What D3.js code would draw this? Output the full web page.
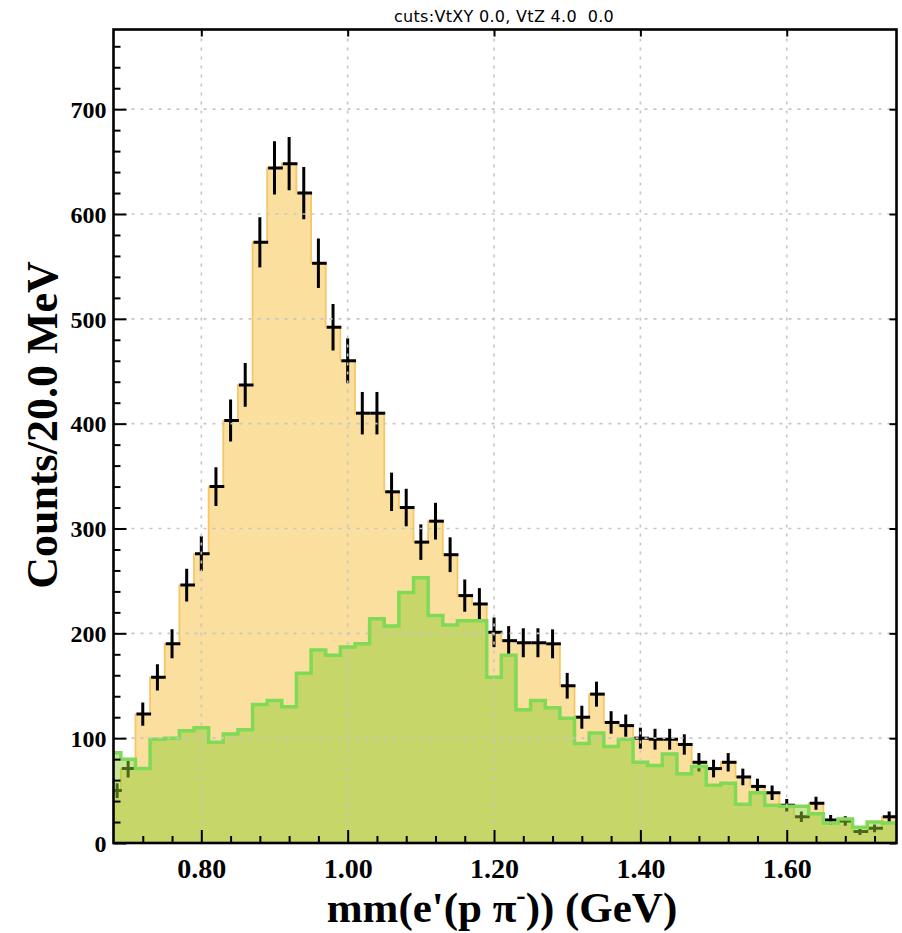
<!DOCTYPE html>
<html>
<head>
<meta charset="utf-8">
<script src="https://cdn.jsdelivr.net/npm/d3@7"></script>
<style>
body { margin: 0; background: #fff; }
</style>
</head>
<body>
<div id="chart"></div>
<script>
// bin centres (GeV), 20 MeV bins
var binCenters = [0.68, 0.70, 0.72, 0.74, 0.76, 0.78, 0.80, 0.82, 0.84, 0.86,
                  0.88, 0.90, 0.92, 0.94, 0.96, 0.98, 1.00, 1.02, 1.04, 1.06,
                  1.08, 1.10, 1.12, 1.14, 1.16, 1.18, 1.20, 1.22, 1.24, 1.26,
                  1.28, 1.30, 1.32, 1.34, 1.36, 1.38, 1.40, 1.42, 1.44, 1.46,
                  1.48, 1.50, 1.52, 1.54, 1.56, 1.58, 1.60, 1.62, 1.64, 1.66,
                  1.68, 1.70, 1.72, 1.74];
// data (orange histogram + crosses)
var dataCounts = [50, 71, 123, 158, 190, 246, 276, 340, 403, 437,
                  573, 644, 648, 620, 553, 492, 460, 410, 410, 335,
                  320, 287, 307, 275, 236, 228, 201, 193, 191, 191,
                  190, 150, 120, 142, 115, 112, 100, 99, 99, 94,
                  77, 71, 77, 63, 54, 48, 36, 25, 38, 22,
                  21, 11, 14, 25];
// simulation (green histogram)
var mcCounts = [86, 80, 71, 99, 100, 107, 110, 96, 104, 108,
                132, 136, 130, 162, 184, 179, 187, 190, 214, 207,
                239, 253, 217, 208, 212, 212, 158, 179, 127, 136,
                129, 119, 95, 105, 92, 99, 77, 74, 85, 66,
                73, 55, 57, 37, 48, 36, 35, 35, 28, 19,
                23, 15, 20, 19];
var xTickLabels = ["0.80", "1.00", "1.20", "1.40", "1.60"];
var yTickLabels = ["0", "100", "200", "300", "400", "500", "600", "700"];
var titleText = "cuts:VtXY 0.0, VtZ 4.0  0.0";

var margin = {top: 29.5, left: 113.5},
    width = 783,
    height = 813.5,
    binWidth = 0.02;

var svg = d3.select("#chart")
    .append("svg")
    .attr("width", 902)
    .attr("height", 933);

var x = d3.scaleLinear()
    .domain([0.68, 1.75])
    .range([margin.left, margin.left + width]);

var y = d3.scaleLinear()
    .domain([0, 776])
    .range([margin.top + height, margin.top]);

svg.append("defs").append("clipPath")
    .attr("id", "clip")
    .append("rect")
    .attr("x", margin.left)
    .attr("y", margin.top)
    .attr("width", width)
    .attr("height", height);

function stepPoints(values) {
    var pts = [];
    binCenters.forEach(function(c, i) {
        pts.push([c - binWidth / 2, values[i]]);
        pts.push([c + binWidth / 2, values[i]]);
    });
    return pts;
}

var area = d3.area()
    .x(function(d) { return x(d[0]); })
    .y0(y(0))
    .y1(function(d) { return y(d[1]); });

var line = d3.line()
    .x(function(d) { return x(d[0]); })
    .y(function(d) { return y(d[1]); });

var plot = svg.append("g").attr("clip-path", "url(#clip)");

var dataPts = stepPoints(dataCounts);
var mcPts = stepPoints(mcCounts);

plot.append("path")
    .attr("d", area(dataPts))
    .attr("fill", "#fbdf9f");
plot.append("path")
    .attr("d", line(dataPts))
    .attr("fill", "none")
    .attr("stroke", "#f6c764")
    .attr("stroke-width", 1.8);

// data crosses, error = sqrt(N)
var lo = x.domain()[0], hi = x.domain()[1];
var crosses = plot.append("g")
    .attr("stroke", "#000")
    .attr("stroke-width", 3);

binCenters.forEach(function(c, i) {
    var v = dataCounts[i];
    var a = Math.max(c - binWidth / 2, lo),
        b = Math.min(c + binWidth / 2, hi),
        m = (a + b) / 2;
    crosses.append("line")
        .attr("x1", x(m)).attr("x2", x(m))
        .attr("y1", y(v - Math.sqrt(v))).attr("y2", y(v + Math.sqrt(v)));
    crosses.append("line")
        .attr("x1", x(a) + 1).attr("x2", x(b) + 1)
        .attr("y1", y(v)).attr("y2", y(v));
});

plot.append("path")
    .attr("d", area(mcPts))
    .attr("fill", "rgba(148, 205, 50, 0.5)");
plot.append("path")
    .attr("d", line(mcPts))
    .attr("fill", "none")
    .attr("stroke", "#80d957")
    .attr("stroke-width", 3.5);

// dotted grid
var grid = svg.append("g")
    .attr("stroke", "#c6c6c6")
    .attr("stroke-width", 1.6)
    .attr("stroke-dasharray", "3,6");
xTickLabels.forEach(function(t) {
    grid.append("line")
        .attr("x1", x(+t)).attr("x2", x(+t))
        .attr("y1", margin.top).attr("y2", margin.top + height);
});
yTickLabels.slice(1).forEach(function(t) {
    grid.append("line")
        .attr("x1", margin.left).attr("x2", margin.left + width)
        .attr("y1", y(+t)).attr("y2", y(+t));
});

// axes
var yMajor = yTickLabels.map(Number);
var yMinor = d3.range(20, 776, 20).filter(function(v) { return v % 100 != 0; });
var xMajor = xTickLabels.map(Number);
var xMinor = [0.72, 0.76, 0.84, 0.88, 0.92, 0.96, 1.04, 1.08, 1.12, 1.16,
              1.24, 1.28, 1.32, 1.36, 1.44, 1.48, 1.52, 1.56, 1.64, 1.68, 1.72];

function styleAxis(g) {
    g.select(".domain").remove();
    g.selectAll(".tick line").attr("stroke", "#000").attr("stroke-width", 2);
    g.selectAll("text")
        .attr("fill", "#000")
        .style("font-family", "'Liberation Serif', 'Times New Roman', serif")
        .style("font-weight", "bold");
}

svg.append("g")
    .attr("transform", `translate(${margin.left},0)`)
    .call(d3.axisLeft(y).tickValues(yMajor).tickSizeInner(-13).tickSizeOuter(0)
        .tickPadding(7).tickFormat(function(d, i) { return yTickLabels[i]; }))
    .call(styleAxis)
    .selectAll("text").style("font-size", "24px").attr("dy", "0.34em");

svg.append("g")
    .attr("transform", `translate(${margin.left},0)`)
    .call(d3.axisLeft(y).tickValues(yMinor).tickSizeInner(-7).tickSizeOuter(0).tickFormat(""))
    .call(styleAxis);

svg.append("g")
    .attr("transform", `translate(0,${margin.top + height})`)
    .call(d3.axisBottom(x).tickValues(xMajor).tickSizeInner(-13).tickSizeOuter(0)
        .tickPadding(15).tickFormat(function(d, i) { return xTickLabels[i]; }))
    .call(styleAxis)
    .selectAll("text").style("font-size", "28px");

svg.append("g")
    .attr("transform", `translate(0,${margin.top + height})`)
    .call(d3.axisBottom(x).tickValues(xMinor).tickSizeInner(-7).tickSizeOuter(0).tickFormat(""))
    .call(styleAxis);

svg.append("g")
    .attr("transform", `translate(0,${margin.top})`)
    .call(d3.axisTop(x).tickValues(xMajor).tickSizeInner(-7).tickSizeOuter(0).tickFormat(""))
    .call(styleAxis);

svg.append("g")
    .attr("transform", `translate(${margin.left + width},0)`)
    .call(d3.axisRight(y).tickValues(yMajor).tickSizeInner(-7).tickSizeOuter(0).tickFormat(""))
    .call(styleAxis);

// frame
svg.append("rect")
    .attr("x", margin.left)
    .attr("y", margin.top)
    .attr("width", width)
    .attr("height", height)
    .attr("fill", "none")
    .attr("stroke", "#000")
    .attr("stroke-width", 2.6);

// titles
svg.append("text")
    .attr("x", 504)
    .attr("y", 21.5)
    .attr("text-anchor", "middle")
    .style("font-family", "'DejaVu Sans', sans-serif")
    .style("font-size", "16px")
    .style("letter-spacing", "0.3px")
    .style("white-space", "pre")
    .text(titleText);

var xTitle = svg.append("text")
    .attr("x", 502)
    .attr("y", 922)
    .attr("text-anchor", "middle")
    .style("font-family", "'Liberation Serif', 'Times New Roman', serif")
    .style("font-weight", "bold")
    .style("font-size", "43px");
xTitle.append("tspan").text("mm(e'(p \u03C0");
xTitle.append("tspan").attr("dy", -18).style("font-size", "28px").text("-");
xTitle.append("tspan").attr("dy", 18).text(")) (GeV)");

svg.append("text")
    .attr("transform", "translate(57,425) rotate(-90)")
    .attr("text-anchor", "middle")
    .style("font-family", "'Liberation Serif', 'Times New Roman', serif")
    .style("font-weight", "bold")
    .style("font-size", "44px")
    .text("Counts/20.0 MeV");
</script>
</body>
</html>
